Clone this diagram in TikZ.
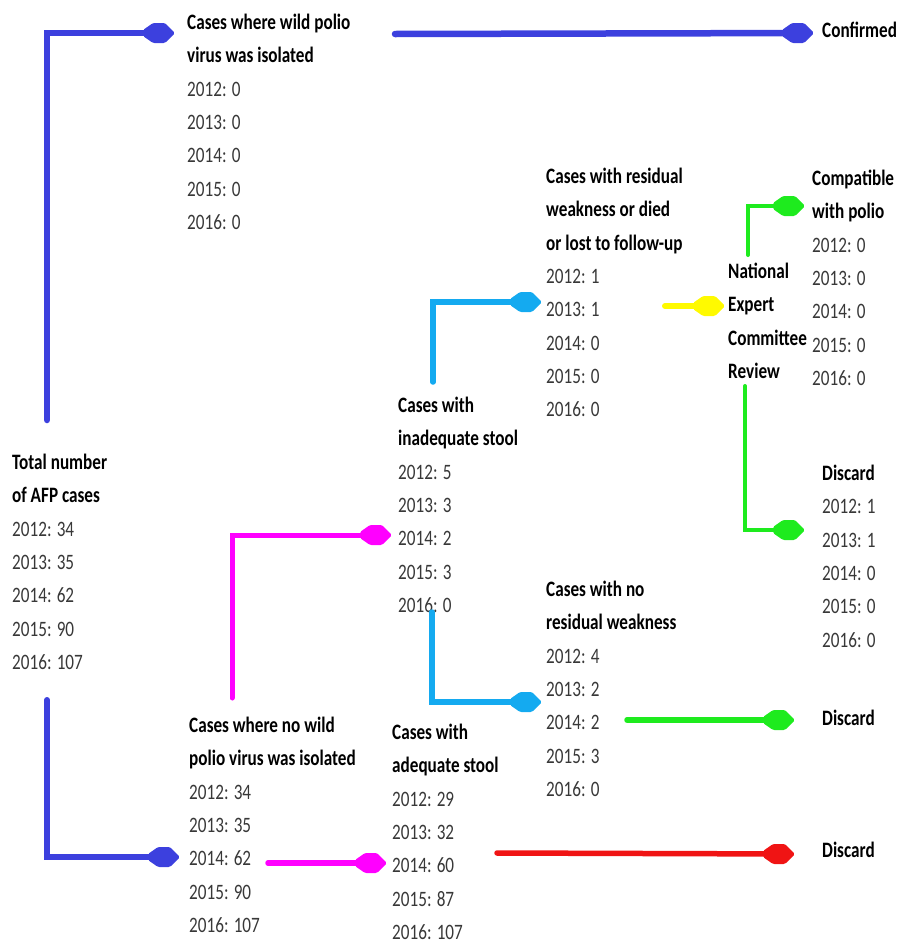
\documentclass[tikz,border=0pt]{standalone}
\usepackage{fontspec}
\setmainfont{Carlito}[FakeStretch=0.78]
\definecolor{cblue}{RGB}{60,64,222}
\definecolor{cmag}{RGB}{255,0,255}
\definecolor{csky}{RGB}{20,170,240}
\definecolor{cyel}{RGB}{255,250,0}
\definecolor{cgreen}{RGB}{30,235,30}
\definecolor{cred}{RGB}{240,20,20}
\newcommand{\hd}[1]{\textbf{\color{black}#1}}
\begin{document}
\begin{tikzpicture}[x=1pt,y=-1pt,
  lbl/.style={anchor=north west, inner sep=0pt, align=left, text=black!78,
    font=\fontsize{22}{33.3}\selectfont},
  arr/.style={line width=5.5pt, line cap=round, line join=miter, shorten >=14pt},
  head/.pic={\fill[rounded corners=1.5pt] (0,0) -- (-10,-10) -- (-22,-10) -- (-32,-3) -- (-32,3) -- (-22,10) -- (-10,10) -- cycle;}]
\useasboundingbox (0,0) rectangle (900,943);
% nodes
\node[lbl] (total) at (12,446) {\strut\hd{Total number}\\\hd{of AFP cases}\\2012: 34\\2013: 35\\2014: 62\\2015: 90\\2016: 107};
\node[lbl] (wild) at (187,6) {\strut\hd{Cases where wild polio}\\\hd{virus was isolated}\\2012: 0\\2013: 0\\2014: 0\\2015: 0\\2016: 0};
\node[lbl] (conf) at (822,14) {\strut\hd{Confirmed}};
\node[lbl] (resid) at (546,160) {\strut\hd{Cases with residual}\\\hd{weakness or died}\\\hd{or lost to follow-up}\\2012: 1\\2013: 1\\2014: 0\\2015: 0\\2016: 0};
\node[lbl] (necr) at (728,255) {\strut\hd{National}\\\hd{Expert}\\\hd{Committee}\\\hd{Review}};
\node[lbl] (compat) at (812,162) {\strut\hd{Compatible}\\\hd{with polio}\\2012: 0\\2013: 0\\2014: 0\\2015: 0\\2016: 0};
\node[lbl] (inad) at (398,389) {\strut\hd{Cases with}\\\hd{inadequate stool}\\2012: 5\\2013: 3\\2014: 2\\2015: 3\\2016: 0};
\node[lbl] (disc1) at (822,457) {\strut\hd{Discard}\\2012: 1\\2013: 1\\2014: 0\\2015: 0\\2016: 0};
\node[lbl] (nores) at (546,573) {\strut\hd{Cases with no}\\\hd{residual weakness}\\2012: 4\\2013: 2\\2014: 2\\2015: 3\\2016: 0};
\node[lbl] (disc2) at (822,702) {\strut\hd{Discard}};
\node[lbl] (nowild) at (189,709) {\strut\hd{Cases where no wild}\\\hd{polio virus was isolated}\\2012: 34\\2013: 35\\2014: 62\\2015: 90\\2016: 107};
\node[lbl] (adeq) at (392,716) {\strut\hd{Cases with}\\\hd{adequate stool}\\2012: 29\\2013: 32\\2014: 60\\2015: 87\\2016: 107};
\node[lbl] (disc3) at (822,834) {\strut\hd{Discard}};
% connector end points
\coordinate (b1s) at (47,420);  \coordinate (b1t) at (175,33);
\coordinate (b2s) at (395,34);  \coordinate (b2t) at (814,33);
\coordinate (b3s) at (47,700);  \coordinate (b3t) at (180,857);
\coordinate (m1s) at (232,698); \coordinate (m1t) at (392,535);
\coordinate (m2s) at (268,863); \coordinate (m2t) at (387,863);
\coordinate (s1s) at (433,382); \coordinate (s1t) at (542,302);
\coordinate (s2s) at (432,612); \coordinate (s2t) at (542,702);
\coordinate (ys) at (665,306);  \coordinate (yt) at (725,306);
\coordinate (g1s) at (748,255); \coordinate (g1t) at (805,206);
\coordinate (g2s) at (745,386); \coordinate (g2t) at (805,530);
\coordinate (g3s) at (627,720); \coordinate (g3t) at (795,720);
\coordinate (rs) at (497,853);  \coordinate (rt) at (795,854);
% connectors
\draw[arr, cblue, line width=6.5pt] (b1s) |- (b1t) pic[cblue]{head};
\draw[arr, cblue, line width=6.5pt] (b2s) -- (b2t) pic[cblue]{head};
\draw[arr, cblue, line width=6pt] (b3s) |- (b3t) pic[cblue]{head};
\draw[arr, cmag, line width=5pt] (m1s) |- (m1t) pic[cmag]{head};
\draw[arr, cmag, line width=5.5pt] (m2s) -- (m2t) pic[cmag]{head};
\draw[arr, csky, line width=5.5pt] (s1s) |- (s1t) pic[csky]{head};
\draw[arr, csky, line width=5.5pt] (s2s) |- (s2t) pic[csky]{head};
\draw[arr, cyel, line width=6pt] (ys) -- (yt) pic[cyel]{head};
\draw[arr, cgreen, line width=4pt] (g1s) |- (g1t) pic[cgreen]{head};
\draw[arr, cgreen, line width=4pt] (g2s) |- (g2t) pic[cgreen]{head};
\draw[arr, cgreen, line width=5.5pt] (g3s) -- (g3t) pic[cgreen]{head};
\draw[arr, cred, line width=5.5pt] (rs) -- (rt) pic[cred]{head};
\end{tikzpicture}
\end{document}
